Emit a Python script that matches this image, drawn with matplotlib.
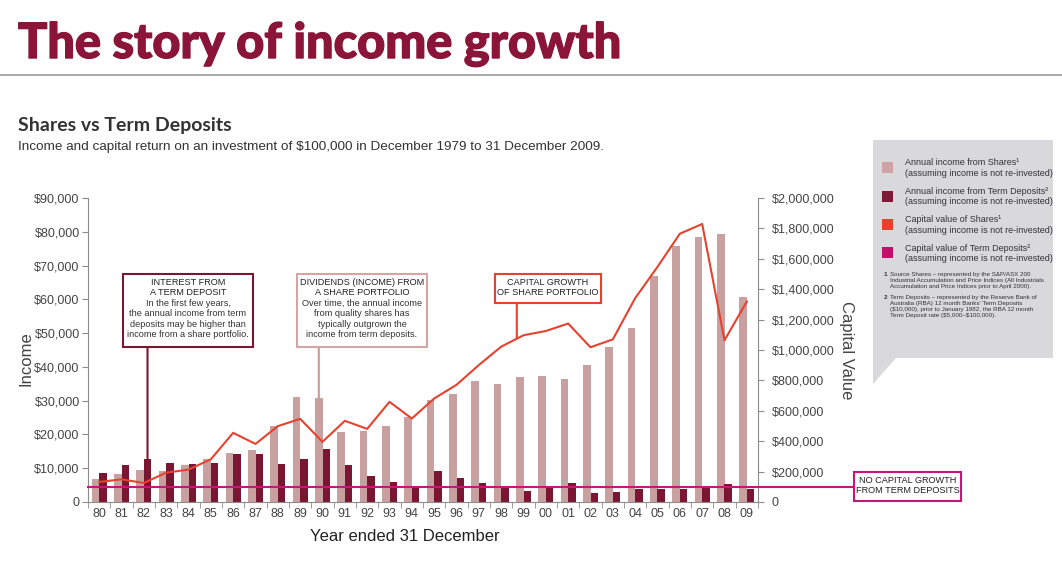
import numpy as np
import matplotlib
matplotlib.use("Agg")
import matplotlib.pyplot as plt
import matplotlib.patheffects as pe
from matplotlib.patches import Rectangle, Polygon

plt.rcParams['font.family'] = ['Liberation Sans', 'DejaVu Sans']

# data
years = ["80", "81", "82", "83", "84", "85", "86", "87", "88", "89",
         "90", "91", "92", "93", "94", "95", "96", "97", "98", "99",
         "00", "01", "02", "03", "04", "05", "06", "07", "08", "09"]
share_income = [6700, 8300, 9600, 9200, 11000, 12700, 14500, 15500, 22600, 31000,
                30700, 20600, 21100, 22400, 25200, 30200, 32100, 35800, 35000, 37000,
                37400, 36500, 40700, 46000, 51600, 66900, 75900, 78500, 79300, 60600]
td_income = [8600, 11000, 12600, 11600, 11200, 11600, 14100, 14100, 11300, 12600,
             15700, 11000, 7600, 5900, 4300, 9300, 7100, 5700, 4300, 3200,
             4500, 5500, 2800, 3100, 3800, 3800, 3800, 4300, 5200, 3800]
share_capital = [132000, 149000, 125000, 193000, 213000, 281000, 455000, 382000, 499000, 547000,
                 396000, 534000, 481000, 659000, 549000, 681000, 771000, 901000, 1022000, 1097000,
                 1125000, 1174000, 1018000, 1070000, 1341000, 1547000, 1765000, 1829000, 1064000, 1319000]
td_capital = 100000

income_ticks = [0, 10000, 20000, 30000, 40000, 50000, 60000, 70000, 80000, 90000]
capital_ticks = [0, 200000, 400000, 600000, 800000, 1000000, 1200000, 1400000, 1600000, 1800000, 2000000]

c_light = "#c9a0a0"
c_dark = "#7b1632"
c_red = "#e4432f"
c_pink = "#c8157a"
c_title = "#8a1538"
c_axis = "#8c8c8c"

W, H = 1062, 564


def fx(px):
    return px / W


def fy(py):
    return 1 - py / H


fig = plt.figure(figsize=(10.62, 5.64), dpi=100)

# header
fig.text(fx(18), fy(58), "The story of income growth", fontsize=35, family="Lato",
         weight="black", color=c_title, va="baseline",
         path_effects=[pe.withStroke(linewidth=1.0, foreground=c_title)])
fig.add_artist(plt.Line2D([0, 1], [fy(75), fy(75)], color="#9a9a9a", lw=1.2))
fig.text(fx(18), fy(131), "Shares vs Term Deposits", fontsize=14, weight="bold",
         color="#333333", va="baseline", family="Lato")
fig.text(fx(18), fy(150), "Income and capital return on an investment of \\$100,000 in December 1979 to 31 December 2009.",
         fontsize=9.7, color="#333333", va="baseline")

ax = fig.add_axes([fx(88), fy(502), fx(758) - fx(88), fy(198) - fy(502)])
x = np.arange(len(years))
bw = 0.33
ax.bar(x - bw / 2, share_income, width=bw, color=c_light, zorder=2)
ax.bar(x + bw / 2, td_income, width=bw, color=c_dark, zorder=2)
ax.set_xlim(-0.5, len(years) - 0.5)
ax.set_ylim(0, 90000)
ax.set_yticks(income_ticks)
ax.set_yticklabels(["0"] + ["${:,}".format(v) for v in income_ticks[1:]])
ax.set_xticks(x)
ax.set_xticklabels(years)
ax.set_xticks(np.arange(len(years) + 1) - 0.5, minor=True)
ax.tick_params(axis="x", which="major", length=0, labelsize=9, colors="#444444", pad=4)
ax.tick_params(axis="x", which="minor", length=4, color=c_axis)
ax.tick_params(axis="y", length=4, color=c_axis, labelsize=9, labelcolor="#444444", pad=2)
for s in ["top", "right"]:
    ax.spines[s].set_visible(False)
for s in ["left", "bottom"]:
    ax.spines[s].set_color(c_axis)
ax.set_ylabel("Income", fontsize=12, color="#444444")
ax.yaxis.set_label_coords((33 - 88) / 670, 0.47)
ax.set_xlabel("Year ended 31 December", fontsize=12, color="#222222")
ax.xaxis.set_label_coords((405 - 88) / 670, -0.09)

ax2 = ax.twinx()
ax2.set_ylim(0, 2000000)
ax2.plot(x, share_capital, color=c_red, lw=1.5, zorder=3)
ax2.axhline(td_capital, xmin=0, xmax=(854 - 88) / (758 - 88), color=c_pink, lw=1.5,
            clip_on=False, zorder=3)
ax2.set_yticks(capital_ticks)
ax2.set_yticklabels(["0"] + ["${:,}".format(v) for v in capital_ticks[1:]])
ax2.tick_params(axis="y", length=4, color=c_axis, labelsize=9, labelcolor="#444444", pad=6)
for s in ["top", "left", "bottom"]:
    ax2.spines[s].set_visible(False)
ax2.spines["right"].set_color(c_axis)
ax2.set_ylabel("Capital Value", fontsize=12, color="#444444", rotation=270, labelpad=14)


def note_box(x0, y0, x1, y1, edge, head, body):
    fig.add_artist(Rectangle((fx(x0), fy(y1)), fx(x1) - fx(x0), fy(y0) - fy(y1),
                             transform=fig.transFigure, facecolor="white",
                             edgecolor=edge, lw=1.5, zorder=5))
    cx = fx((x0 + x1) / 2)
    fig.text(cx, fy(y0 + 4), head, ha="center", va="top", fontsize=6.6,
             color="#222222", linespacing=1.2, zorder=6)
    if body:
        n = head.count("\n") + 1
        fig.text(cx, fy(y0 + 4 + 10.5 * n), body, ha="center", va="top", fontsize=6.6,
                 color="#333333", linespacing=1.2, zorder=6)


note_box(123, 274, 253, 347, c_dark, "INTEREST FROM\nA TERM DEPOSIT",
         "In the first few years,\nthe annual income from term\ndeposits may be higher than\nincome from a share portfolio.")
note_box(297, 274, 427, 347, "#d4a5a5", "DIVIDENDS (INCOME) FROM\nA SHARE PORTFOLIO",
         "Over time, the annual income\nfrom quality shares has\ntypically outgrown the\nincome from term deposits.")
note_box(495, 274, 601, 303, c_red, "CAPITAL GROWTH\nOF SHARE PORTFOLIO", "")
note_box(854, 472, 961, 501, c_pink, "NO CAPITAL GROWTH\nFROM TERM DEPOSITS", "")

# connectors from boxes down to the marks they describe
ax.annotate("", xy=(2 + bw / 2, td_income[2]), xycoords="data",
            xytext=(2 + bw / 2, fy(347)), textcoords=("data", "figure fraction"),
            arrowprops=dict(arrowstyle="-", color=c_dark, lw=1.5, shrinkA=0, shrinkB=0))
ax.annotate("", xy=(10 - bw / 2, share_income[10]), xycoords="data",
            xytext=(10 - bw / 2, fy(347)), textcoords=("data", "figure fraction"),
            arrowprops=dict(arrowstyle="-", color="#c99a9a", lw=1.5, shrinkA=0, shrinkB=0))
xa = 18.7
ax2.annotate("", xy=(xa, np.interp(xa, x, share_capital)), xycoords="data",
             xytext=(xa, fy(303)), textcoords=("data", "figure fraction"),
             arrowprops=dict(arrowstyle="-", color=c_red, lw=1.5, shrinkA=0, shrinkB=0))

# legend panel
fig.add_artist(Polygon([(fx(873), fy(140)), (fx(1053), fy(140)), (fx(1053), fy(358)),
                        (fx(896), fy(358)), (fx(873), fy(384))], closed=True,
                       transform=fig.transFigure, facecolor="#d9d9db", edgecolor="none"))
leg_colors = ["#cfa3a3", "#7d1a35", "#e8402a", "#c2106a"]
leg_text = ["Annual income from Shares\u00b9\n(assuming income is not re-invested)",
            "Annual income from Term Deposits\u00b2\n(assuming income is not re-invested)",
            "Capital value of Shares\u00b9\n(assuming income is not re-invested)",
            "Capital value of Term Deposits\u00b2\n(assuming income is not re-invested)"]
for i in range(4):
    yc = 168 + 28.5 * i
    fig.add_artist(Rectangle((fx(882), fy(yc + 5)), fx(11), fy(0) - fy(11),
                             transform=fig.transFigure, facecolor=leg_colors[i], edgecolor="none"))
    fig.text(fx(905), fy(yc), leg_text[i], fontsize=6.5, color="#333333",
             va="center", linespacing=1.2)
fig.text(fx(884), fy(272), "1", fontsize=4.6, weight="bold", color="#333333", va="top")
fig.text(fx(890), fy(272), "Source Shares \u2013 represented by the S&P/ASX 200\nIndustrial Accumulation and Price Indices (All Industrials\nAccumulation and Price Indices prior to April 2000).",
         fontsize=4.5, color="#333333", va="top", linespacing=1.25)
fig.text(fx(884), fy(295), "2", fontsize=4.6, weight="bold", color="#333333", va="top")
fig.text(fx(890), fy(295), "Term Deposits \u2013 represented by the Reserve Bank of\nAustralia (RBA) 12 month Banks' Term Deposits\n(\\$10,000), prior to January 1982, the RBA 12 month\nTerm Deposit rate (\\$5,000\u2013\\$100,000).",
         fontsize=4.5, color="#333333", va="top", linespacing=1.25)

fig.savefig("out.png", dpi=100)
